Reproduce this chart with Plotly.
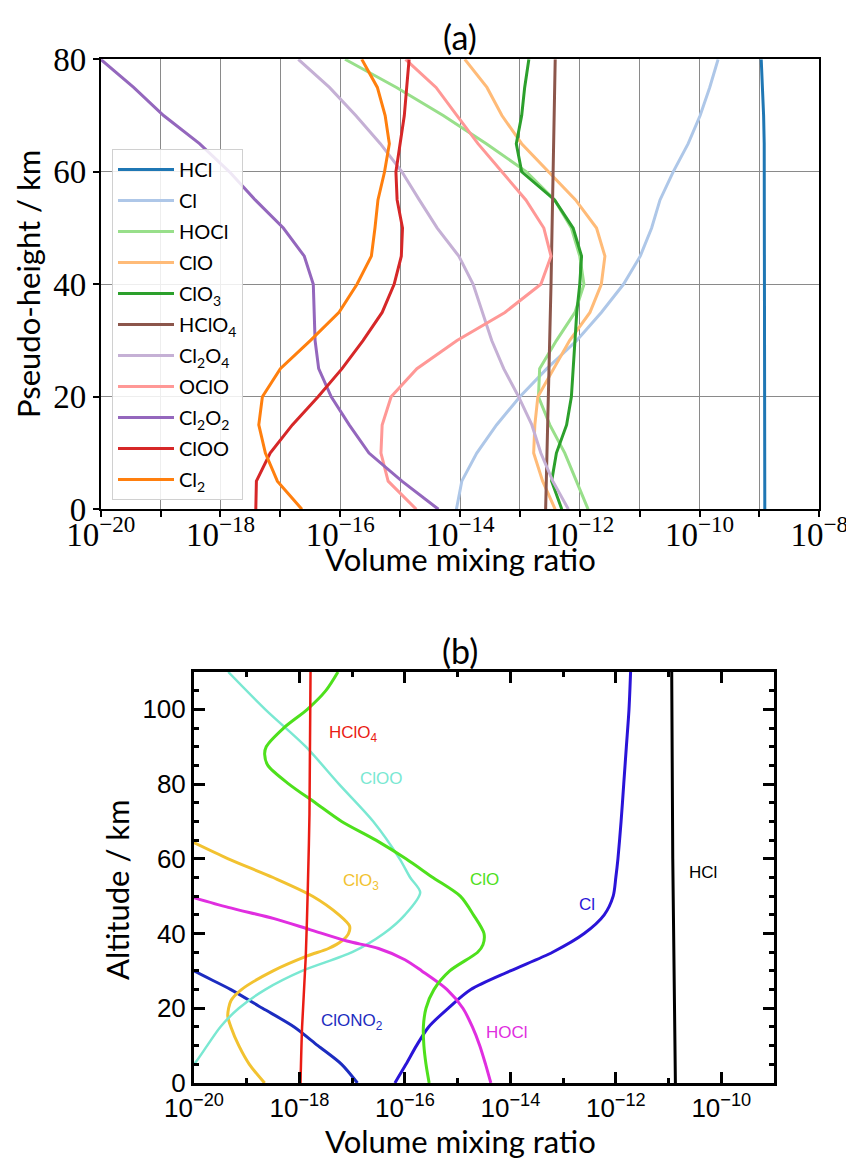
import plotly.graph_objects as go

# ---------------- Panel (a) data: log10(volume mixing ratio) vs pseudo-height (km)
alt_a = [0, 5, 10, 15, 20, 25, 30, 35, 40, 45, 50, 55, 60, 65, 70, 75, 80]
hcl_a = [-8.91, -8.91, -8.91, -8.91, -8.91, -8.91, -8.91, -8.91, -8.91, -8.91, -8.91, -8.91, -8.91, -8.92, -8.93, -8.95, -8.97]
cl_a = [-14.06, -13.97, -13.72, -13.39, -13.0, -12.55, -12.05, -11.64, -11.27, -10.99, -10.80, -10.66, -10.44, -10.19, -9.99, -9.83, -9.69]
hocl_a = [-11.86, -12.05, -12.25, -12.50, -12.69, -12.67, -12.39, -12.08, -11.93, -12.0, -12.14, -12.42, -12.89, -13.56, -14.28, -15.06, -15.92]
clo_a = [-12.41, -12.62, -12.77, -12.75, -12.70, -12.44, -12.17, -11.83, -11.64, -11.58, -11.72, -12.07, -12.52, -12.97, -13.30, -13.55, -13.92]
clo3_a = [-12.30, -12.47, -12.39, -12.22, -12.14, -12.11, -12.08, -12.05, -12.0, -11.97, -12.11, -12.42, -12.97, -13.06, -12.97, -12.92, -12.85]
alt_hclo4_a = [0, 40, 80]
hclo4_a = [-12.57, -12.48, -12.41]
cl2o4_a = [-12.19, -12.45, -12.65, -12.80, -13.02, -13.27, -13.47, -13.62, -13.78, -14.02, -14.38, -14.68, -14.97, -15.33, -15.74, -16.18, -16.70]
oclo_a = [-14.73, -15.2, -15.32, -15.3, -15.15, -14.72, -14.05, -13.25, -12.65, -12.48, -12.6, -12.9, -13.3, -13.7, -14.05, -14.4, -14.91]
cl2o2_a = [-14.36, -14.97, -15.52, -15.85, -16.15, -16.36, -16.42, -16.43, -16.45, -16.6, -16.95, -17.42, -17.85, -18.35, -18.95, -19.45, -20.0]
cloo_a = [-17.41, -17.4, -17.17, -16.8, -16.37, -15.97, -15.62, -15.3, -15.1, -14.98, -14.96, -15.05, -15.07, -15.0, -14.93, -14.89, -14.85]
cl2_a = [-16.64, -17.05, -17.25, -17.36, -17.3, -17.0, -16.5, -16.02, -15.72, -15.48, -15.42, -15.37, -15.26, -15.18, -15.25, -15.38, -15.64]

# ---------------- Panel (b) data: log10(volume mixing ratio) vs altitude (km)
alt_hcl_b = [0, 60, 110]
hcl_b = [-10.87, -10.92, -10.94]
alt_cl_b = [0, 5, 10, 15, 20, 25, 30, 35, 40, 45, 50, 55, 60, 70, 80, 90, 100, 110]
cl_b = [-16.19, -15.98, -15.78, -15.55, -15.18, -14.75, -14.0, -13.2, -12.6, -12.22, -12.05, -12.0, -11.96, -11.9, -11.85, -11.8, -11.75, -11.72]
alt_clono2_b = [0, 5, 10, 15, 20, 25, 30, 35]
clono2_b = [-16.9, -17.2, -17.65, -18.1, -18.7, -19.3, -20.0, -20.6]
alt_clo3_b = [0, 5, 10, 15, 18, 22, 25, 30, 34, 36, 38, 40, 42, 45, 50, 55, 60, 65]
clo3_b = [-18.66, -18.95, -19.15, -19.3, -19.36, -19.3, -19.1, -18.5, -17.85, -17.45, -17.2, -17.07, -17.05, -17.25, -17.75, -18.5, -19.35, -20.1]
alt_cloo_b = [0, 5, 10, 15, 20, 25, 30, 35, 40, 45, 51, 55, 60, 70, 80, 90, 100, 110]
cloo_b = [-20.35, -20.0, -19.75, -19.5, -19.15, -18.65, -17.95, -17.0, -16.4, -16.0, -15.71, -15.9, -16.1, -16.6, -17.25, -17.88, -18.65, -19.35]
alt_clo_b = [0, 5, 10, 15, 20, 25, 30, 35, 37, 40, 45, 50, 55, 60, 65, 70, 75, 80, 85, 88, 90, 95, 100, 105, 110]
clo_b = [-15.54, -15.6, -15.64, -15.65, -15.6, -15.45, -15.15, -14.62, -14.52, -14.5, -14.7, -14.95, -15.47, -15.98, -16.55, -17.2, -17.7, -18.2, -18.6, -18.66, -18.63, -18.3, -17.85, -17.5, -17.27]
alt_hocl_b = [0, 5, 10, 15, 20, 25, 30, 33, 36, 38, 41, 44, 47, 50]
hocl_b = [-14.37, -14.47, -14.58, -14.72, -14.9, -15.2, -15.68, -16.0, -16.5, -17.1, -17.79, -18.48, -19.35, -20.1]
alt_hclo4_b = [0, 15, 34, 53, 72, 110]
hclo4_b = [-17.98, -17.95, -17.88, -17.84, -17.81, -17.79]

# tick labels
xt_a_major = [-20, -18, -16, -14, -12, -10, -8]
xt_a_minor = [-19, -17, -15, -13, -11, -9]
xt_b_major = [-20, -18, -16, -14, -12, -10]
xt_b_minor = [-19, -17, -15, -13, -11, -9]
yt_a = [0, 20, 40, 60, 80]
yt_b = [0, 20, 40, 60, 80, 100]


def vmr(logs):
    return [10.0 ** v for v in logs]


def sup(p):
    return "10<sup>\u2212%d</sup>" % (-p)


fig = go.Figure()

top_series = [
    ("HCl", "#1f77b4", alt_a, hcl_a),
    ("Cl", "#aec7e8", alt_a, cl_a),
    ("HOCl", "#98df8a", alt_a, hocl_a),
    ("ClO", "#ffbb78", alt_a, clo_a),
    ("ClO<sub>3</sub>", "#2ca02c", alt_a, clo3_a),
    ("HClO<sub>4</sub>", "#8c564b", alt_hclo4_a, hclo4_a),
    ("Cl<sub>2</sub>O<sub>4</sub>", "#c5b0d5", alt_a, cl2o4_a),
    ("OClO", "#ff9896", alt_a, oclo_a),
    ("Cl<sub>2</sub>O<sub>2</sub>", "#9467bd", alt_a, cl2o2_a),
    ("ClOO", "#d62728", alt_a, cloo_a),
    ("Cl<sub>2</sub>", "#ff7f0e", alt_a, cl2_a),
]
for i, (name, color, alts, vals) in enumerate(top_series):
    fig.add_trace(go.Scatter(
        x=vmr(vals), y=alts, mode="lines", name=name,
        line=dict(color=color, width=3), legendgroup="g%d" % i,
        xaxis="x", yaxis="y"))

bot_series = [
    ("HCl", "#000000", alt_hcl_b, hcl_b, 3),
    ("Cl", "#2a14d8", alt_cl_b, cl_b, 3),
    ("ClONO2", "#1c2cc0", alt_clono2_b, clono2_b, 3),
    ("ClO3", "#f2c230", alt_clo3_b, clo3_b, 3),
    ("ClOO", "#7ae8d2", alt_cloo_b, cloo_b, 2.5),
    ("HOCl", "#e02ee0", alt_hocl_b, hocl_b, 3),
    ("ClO", "#4ee01c", alt_clo_b, clo_b, 3),
    ("HClO4", "#ea1c14", alt_hclo4_b, hclo4_b, 2.5),
]
for name, color, alts, vals, w in bot_series:
    fig.add_trace(go.Scatter(
        x=vmr(vals), y=alts, mode="lines", name=name, showlegend=False,
        line=dict(color=color, width=w, shape="spline", smoothing=0.8),
        xaxis="x2", yaxis="y2"))

# the page places the figure 8 px from the top-left corner of the window
OFF = 8
W, H = 854 - OFF, 1159 - OFF


def px(x):
    return (x - OFF) / W


def py(y):
    return 1 - (y - OFF) / H


serif = "Liberation Serif"
sans = "Lato"
grid_c = "#8a8a8a"

fig.update_layout(
    width=W, height=H,
    margin=dict(l=0, r=0, t=0, b=0, autoexpand=False),
    paper_bgcolor="white", plot_bgcolor="white",
    showlegend=True,
    legend=dict(x=px(112), y=py(149), xanchor="left", yanchor="top",
                bgcolor="rgba(255,255,255,0.85)", bordercolor="#d0d0d0", borderwidth=1,
                font=dict(family=sans, size=20, color="black"),
                tracegroupgap=2, itemwidth=56),
    xaxis=dict(type="log", range=[-20, -8], domain=[px(100.7), px(819.3)], anchor="y",
               automargin=False,
               tickmode="array", tickvals=[10.0 ** p for p in xt_a_major],
               ticktext=[sup(p) for p in xt_a_major],
               ticks="outside", ticklen=6, tickwidth=1.5, tickcolor="black",
               ticklabelstandoff=-11,
               minor=dict(tickmode="array", tickvals=[10.0 ** p for p in xt_a_minor],
                          ticks="outside", ticklen=6, tickwidth=1.5, tickcolor="black",
                          showgrid=True, gridcolor=grid_c, gridwidth=1.4),
               showgrid=True, gridcolor=grid_c, gridwidth=1.4,
               showline=True, linecolor="black", linewidth=1.6, mirror=True,
               zeroline=False, tickfont=dict(family=serif, size=33, color="black")),
    yaxis=dict(range=[0, 80], domain=[py(509.3), py(59.3)], anchor="x",
               automargin=False,
               tickmode="array", tickvals=yt_a, ticktext=[str(v) for v in yt_a],
               ticks="outside", ticklen=6, tickwidth=1.5, tickcolor="black",
               showgrid=True, gridcolor=grid_c, gridwidth=1.4,
               showline=True, linecolor="black", linewidth=1.6, mirror=True,
               zeroline=False, tickfont=dict(family=serif, size=33, color="black")),
    xaxis2=dict(type="log", range=[-20, -9], domain=[px(194), px(774)], anchor="y2",
                automargin=False,
                tickmode="array", tickvals=[10.0 ** p for p in xt_b_major],
                ticktext=[sup(p) for p in xt_b_major],
                ticks="inside", ticklen=11, tickwidth=3, tickcolor="black",
                minor=dict(tickmode="array", tickvals=[10.0 ** p for p in xt_b_minor],
                           ticks="inside", ticklen=5, tickwidth=3, tickcolor="black", showgrid=False),
                showgrid=False, showline=True, linecolor="black", linewidth=3, mirror="allticks",
                zeroline=False, tickfont=dict(family="Liberation Sans", size=26, color="black")),
    yaxis2=dict(range=[0, 110], domain=[py(1083), py(672)], anchor="x2",
                automargin=False,
                tickmode="array", tickvals=yt_b, ticktext=[str(v) for v in yt_b],
                ticks="inside", ticklen=11, tickwidth=3, tickcolor="black",
                minor=dict(dtick=5, tick0=0, ticks="inside", ticklen=5, tickwidth=3,
                           tickcolor="black", showgrid=False),
                showgrid=False, showline=True, linecolor="black", linewidth=3, mirror="allticks",
                zeroline=False, tickfont=dict(family="Liberation Sans", size=26, color="black")),
)

ann = []


def label(text, x, y, size, angle=0):
    return dict(text=text, x=px(x), y=py(y), xref="paper", yref="paper", showarrow=False,
                xanchor="center", yanchor="middle", textangle=angle,
                font=dict(family=sans, size=size, color="black"))


ann.append(label("(a)", 460, 37, 34))
ann.append(label("Volume mixing ratio", 460, 559, 31))
ann.append(label("Pseudo-height / km", 28, 284, 31, -90))
ann.append(label("(b)", 460, 650, 34))
ann.append(label("Volume mixing ratio", 460, 1141, 31))
ann.append(label("Altitude / km", 117, 890, 31, -90))

# in-panel labels for (b)
lab_b = [
    ("HClO<sub>4</sub>", -16.97, 93.5, "#ea1c14"),
    ("ClOO", -16.45, 81.6, "#7ae8d2"),
    ("ClO<sub>3</sub>", -16.84, 53.9, "#f2c230"),
    ("ClO", -14.5, 54.4, "#4ee01c"),
    ("Cl", -12.55, 47.7, "#2a14d8"),
    ("HCl", -10.35, 56.3, "#000000"),
    ("ClONO<sub>2</sub>", -17.0, 16.2, "#1c2cc0"),
    ("HOCl", -14.07, 13.5, "#e02ee0"),
]
for t, lx, ly, c in lab_b:
    ann.append(dict(text=t, x=lx, y=ly, xref="x2", yref="y2", showarrow=False,
                    xanchor="center", yanchor="middle",
                    font=dict(family="Liberation Sans", size=17, color=c)))

fig.update_layout(annotations=ann)

fig.write_html("out.html")
